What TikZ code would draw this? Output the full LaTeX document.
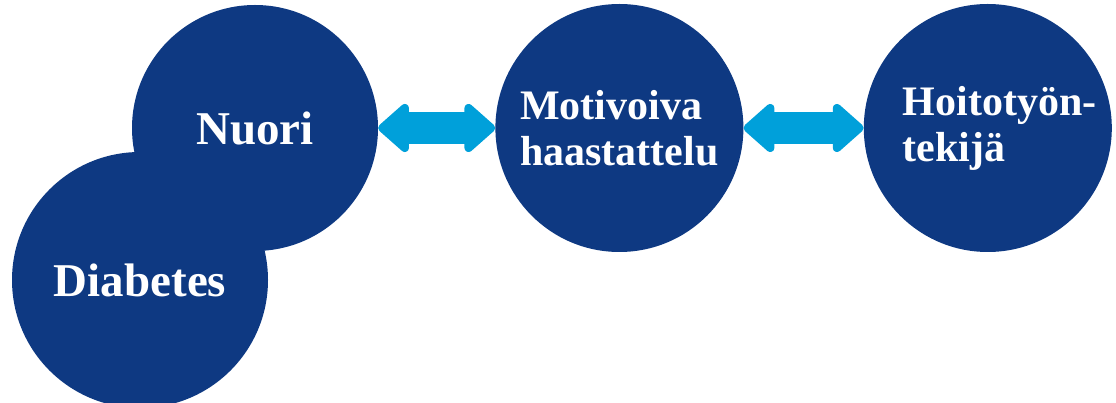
\documentclass[tikz,border=0pt]{standalone}
\usepackage{fontspec}
\setmainfont{Liberation Serif}
\usepackage{tikz}
\usetikzlibrary{arrows.meta, positioning}
\definecolor{ympyra}{RGB}{14,57,130}
\definecolor{nuoli}{RGB}{0,160,218}
\tikzstyle{circ}=[circle, fill=ympyra, inner sep=0pt, minimum size=248pt,
                  text=white, font=\fontsize{42}{46}\selectfont\bfseries]
\tikzstyle{arrow}=[{Triangle[length=33pt,width=56pt,round]}-{Triangle[length=33pt,width=56pt,round]},
                   line width=32pt, color=nuoli]

\begin{document}
\begin{tikzpicture}[x=1pt, y=-1pt]
  \useasboundingbox (0,0) rectangle (1116,403);
  % Circles
  \node[circ, minimum size=256pt, font=\fontsize{47}{50}\selectfont\bfseries] (diab) at (140,280) {Diabetes};
  \node[circ, minimum size=246pt, font=\fontsize{47}{50}\selectfont\bfseries] (nuori) at (255,128) {Nuori};
  \node[circ, right=117pt of nuori, align=left] (motiv) {Motivoiva\\haastattelu};
  \node[circ, right=120pt of motiv, align=left] (hoito) {\hspace*{24pt}Hoitotyön-\\\hspace*{24pt}tekijä};

  % Arrows
  \draw[arrow] (nuori) -- (motiv);
  \draw[arrow] (motiv) -- (hoito);
\end{tikzpicture}
\end{document}
